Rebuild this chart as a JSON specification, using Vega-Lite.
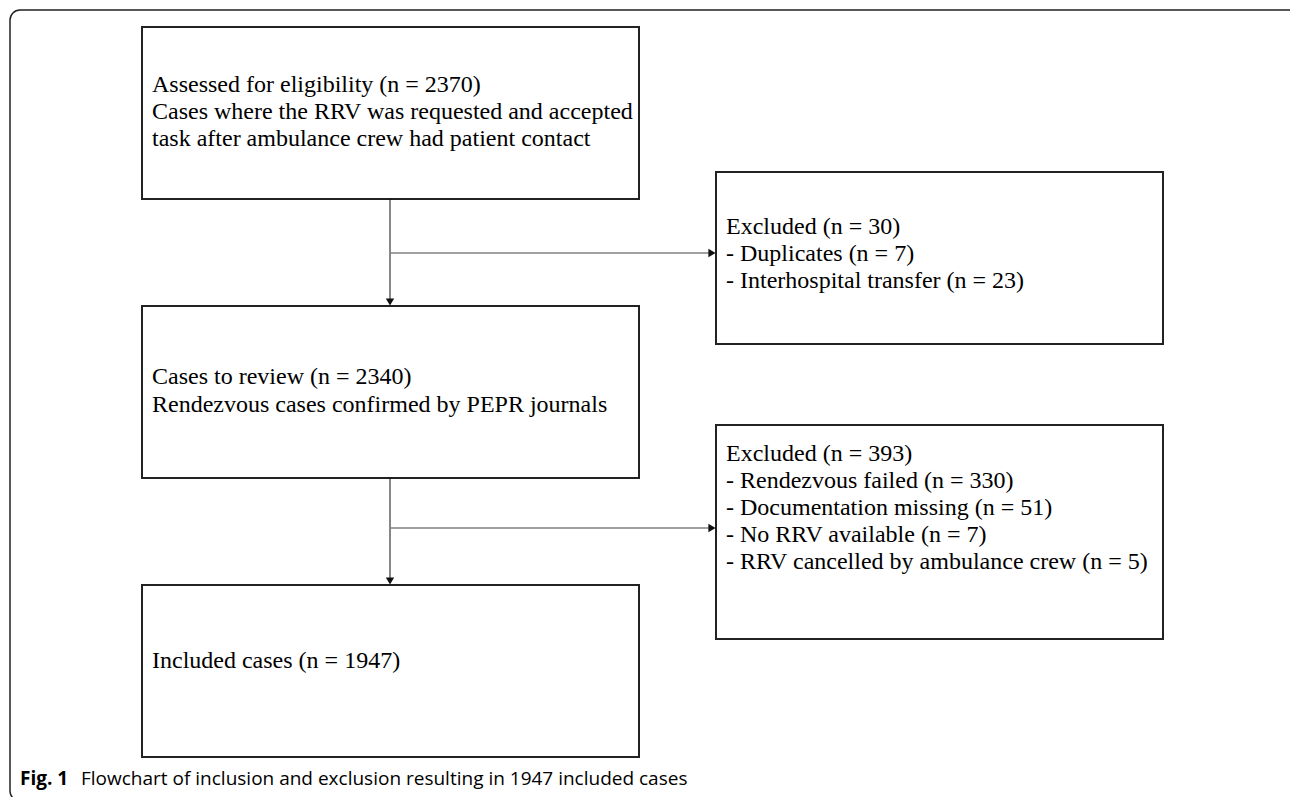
{
  "$schema": "https://vega.github.io/schema/vega-lite/v6.json",
  "width": 1290,
  "height": 797,
  "padding": 0,
  "autosize": "none",
  "background": "white",
  "config": {"view": {"stroke": null}},
  "datasets": {
    "frame": [{"x": 10, "x2": 1300, "y": 10, "y2": 801}],
    "boxes": [
      {"name": "assessed", "x": 142, "x2": 639, "y": 27, "y2": 199},
      {"name": "excluded1", "x": 716, "x2": 1163, "y": 172, "y2": 344},
      {"name": "review", "x": 142, "x2": 639, "y": 306, "y2": 478},
      {"name": "excluded2", "x": 716, "x2": 1163, "y": 425, "y2": 639},
      {"name": "included", "x": 142, "x2": 639, "y": 585, "y2": 757}
    ],
    "vlines": [
      {"x": 390, "x2": 390, "y": 199, "y2": 300},
      {"x": 390, "x2": 390, "y": 478, "y2": 579}
    ],
    "hlines": [
      {"x": 390, "x2": 710, "y": 253, "y2": 253},
      {"x": 390, "x2": 710, "y": 528, "y2": 528}
    ],
    "heads": [
      {"x": 390, "y": 302, "shape": "triangle-down"},
      {"x": 390, "y": 581, "shape": "triangle-down"},
      {"x": 712, "y": 253, "shape": "triangle-right"},
      {"x": 712, "y": 528, "shape": "triangle-right"}
    ],
    "texts": [
      {"x": 152, "y": 85, "text": "Assessed for eligibility (n = 2370)"},
      {"x": 152, "y": 112, "text": "Cases where the RRV was requested and accepted"},
      {"x": 152, "y": 139, "text": "task after ambulance crew had patient contact"},
      {"x": 726, "y": 227, "text": "Excluded (n = 30)"},
      {"x": 726, "y": 254, "text": "- Duplicates (n = 7)"},
      {"x": 726, "y": 281, "text": "- Interhospital transfer (n = 23)"},
      {"x": 152, "y": 377, "text": "Cases to review (n = 2340)"},
      {"x": 152, "y": 405, "text": "Rendezvous cases confirmed by PEPR journals"},
      {"x": 726, "y": 454, "text": "Excluded (n = 393)"},
      {"x": 726, "y": 481, "text": "- Rendezvous failed (n = 330)"},
      {"x": 726, "y": 508, "text": "- Documentation missing (n = 51)"},
      {"x": 726, "y": 535, "text": "- No RRV available (n = 7)"},
      {"x": 726, "y": 562, "text": "- RRV cancelled by ambulance crew (n = 5)"},
      {"x": 152, "y": 661, "text": "Included cases (n = 1947)"}
    ],
    "capbold": [{"x": 20, "y": 779, "text": "Fig. 1"}],
    "caption": [{"x": 81, "y": 779, "text": "Flowchart of inclusion and exclusion resulting in 1947 included cases"}]
  },
  "encoding": {
    "x": {"field": "x", "type": "quantitative", "scale": {"domain": [0, 1290], "nice": false, "zero": false}, "axis": null},
    "y": {"field": "y", "type": "quantitative", "scale": {"domain": [0, 797], "nice": false, "zero": false, "reverse": true}, "axis": null}
  },
  "layer": [
    {
      "data": {"name": "frame"},
      "mark": {"type": "rect", "fill": null, "stroke": "#222222", "strokeWidth": 1.5, "cornerRadius": 10},
      "encoding": {"x2": {"field": "x2"}, "y2": {"field": "y2"}}
    },
    {
      "data": {"name": "boxes"},
      "mark": {"type": "rect", "fill": "white", "stroke": "#222222", "strokeWidth": 2},
      "encoding": {"x2": {"field": "x2"}, "y2": {"field": "y2"}}
    },
    {
      "data": {"name": "vlines"},
      "mark": {"type": "rule", "stroke": "#111111", "strokeWidth": 1},
      "encoding": {"x2": {"field": "x2"}, "y2": {"field": "y2"}}
    },
    {
      "data": {"name": "hlines"},
      "mark": {"type": "rule", "stroke": "#808080", "strokeWidth": 1.5},
      "encoding": {"x2": {"field": "x2"}, "y2": {"field": "y2"}}
    },
    {
      "data": {"name": "heads"},
      "mark": {"type": "point", "filled": true, "color": "#111111", "size": 70, "opacity": 1},
      "encoding": {"shape": {"field": "shape", "type": "nominal", "scale": null, "legend": null}}
    },
    {
      "data": {"name": "texts"},
      "mark": {"type": "text", "align": "left", "baseline": "middle", "font": "Liberation Serif", "fontSize": 24, "color": "#000000"},
      "encoding": {"text": {"field": "text"}}
    },
    {
      "data": {"name": "capbold"},
      "mark": {"type": "text", "align": "left", "baseline": "middle", "font": "Open Sans", "fontSize": 19, "fontWeight": "bold", "color": "#000000"},
      "encoding": {"text": {"field": "text"}}
    },
    {
      "data": {"name": "caption"},
      "mark": {"type": "text", "align": "left", "baseline": "middle", "font": "Open Sans", "fontSize": 19, "color": "#000000"},
      "encoding": {"text": {"field": "text"}}
    }
  ]
}
